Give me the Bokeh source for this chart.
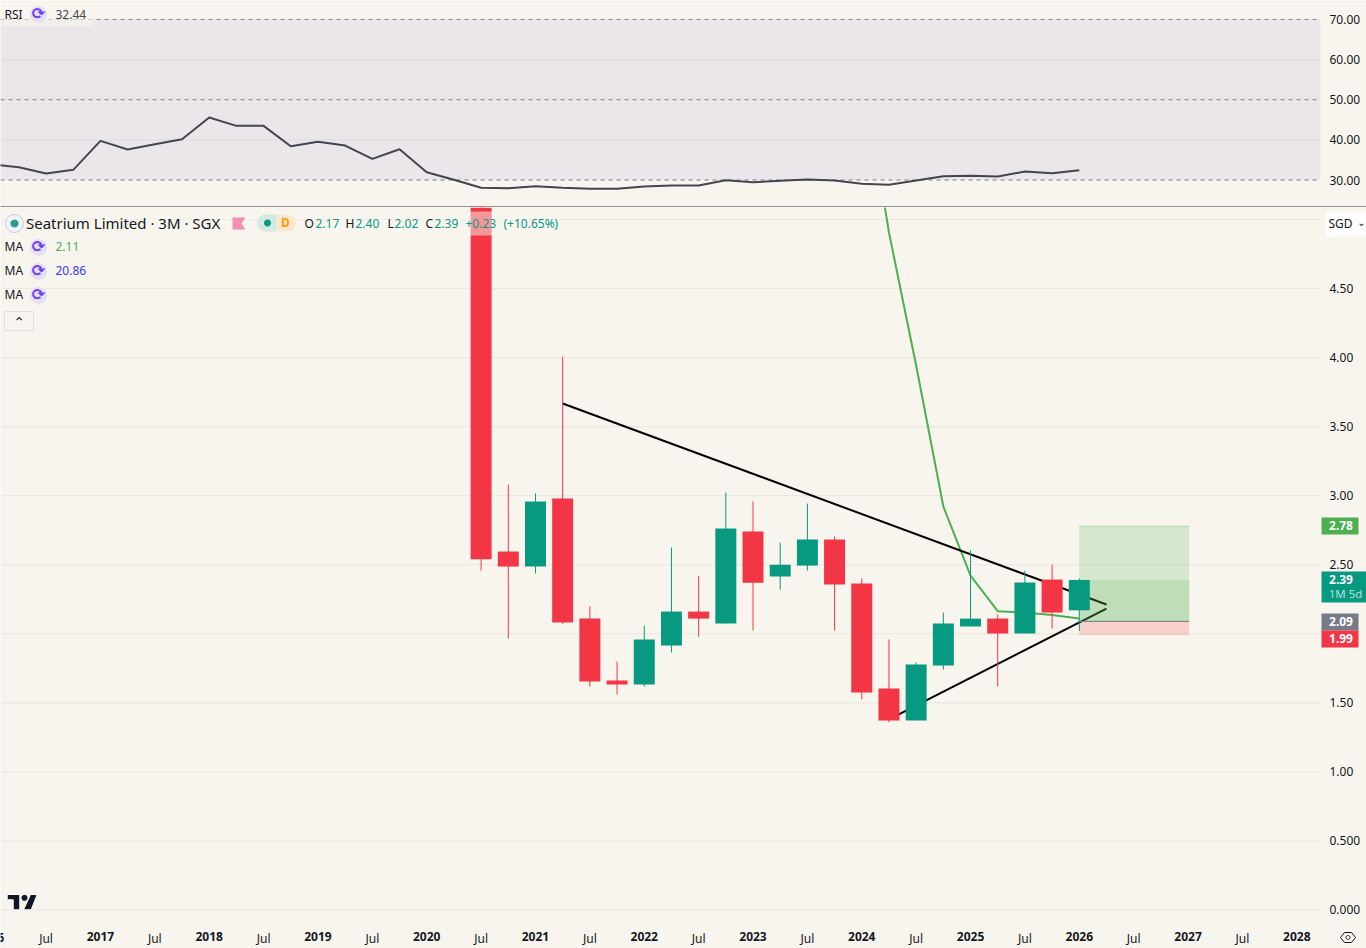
from bokeh.embed import file_html
from bokeh.resources import INLINE
from bokeh.layouts import column
from bokeh.models import Label, Range1d, LinearAxis, FixedTicker, PolyAnnotation
from bokeh.plotting import figure
import math

# ---- data (x = quarter index, 2021 Q1 = 4, 2026 Q1 = 24) ----
candle_x = list(range(2, 25))
opens  = [6.00, 2.596, 2.487, 2.98, 2.11, 1.662, 1.633, 1.915, 2.161, 2.075, 2.74, 2.415, 2.494, 2.683, 2.364, 1.604, 1.372, 1.77, 2.053, 2.11, 2.002, 2.393, 2.17]
highs  = [6.00, 3.08, 3.016, 4.008, 2.198, 1.799, 2.06, 2.625, 2.42, 3.023, 2.958, 2.66, 2.943, 2.705, 2.40, 1.959, 1.792, 2.154, 2.603, 2.14, 2.458, 2.50, 2.40]
lows   = [2.458, 1.966, 2.437, 2.072, 1.618, 1.56, 1.618, 1.865, 1.98, 2.075, 2.024, 2.32, 2.458, 2.024, 1.524, 1.36, 1.372, 1.741, 2.053, 1.618, 2.002, 2.038, 2.02]
closes = [2.54, 2.487, 2.958, 2.082, 1.655, 1.633, 1.959, 2.161, 2.11, 2.762, 2.37, 2.50, 2.683, 2.357, 1.575, 1.372, 1.778, 2.075, 2.11, 2.002, 2.371, 2.154, 2.39]

ma_x = [16, 17, 18, 19, 20, 21, 22, 23, 24]
ma_y = [6.13, 4.906, 3.943, 2.922, 2.422, 2.164, 2.154, 2.136, 2.11]

trend_down_x = [5, 25]
trend_down_y = [3.668, 2.212]
trend_up_x = [17, 25]
trend_up_y = [1.38, 2.183]

pos_left, pos_right = 24, 28.04
pos_target, pos_entry, pos_stop, pos_now = 2.78, 2.09, 1.99, 2.39

rsi_x = list(range(-16, 25))
rsi_y = [33.86, 33.19, 31.62, 32.54, 39.76, 37.6, 38.92, 40.16, 45.57, 43.5, 43.5, 38.42, 39.51, 38.59,
         35.28, 37.67, 31.94, 30.05, 28.06, 27.96, 28.46, 28.06, 27.81, 27.81, 28.38, 28.63, 28.63, 29.95,
         29.45, 29.8, 30.12, 29.88, 29.05, 28.8, 29.88, 30.95, 31.05, 30.87, 32.12, 31.69, 32.44]

price_ticks = [0, 0.5, 1, 1.5, 2, 2.5, 3, 3.5, 4, 4.5, 5]
price_labels = ["0.000", "0.500", "1.00", "1.50", "", "2.50", "3.00", "3.50", "4.00", "4.50", ""]
rsi_ticks = [30, 40, 50, 60, 70]
rsi_labels = ["30.00", "40.00", "50.00", "60.00", "70.00"]
rsi_dashed = [30, 50, 70]
year_ticks = [-12, -8, -4, 0, 4, 8, 12, 16, 20, 24, 28, 32]
year_labels = ["2017", "2018", "2019", "2020", "2021", "2022", "2023", "2024", "2025", "2026", "2027", "2028"]
jul_ticks = [-14, -10, -6, -2, 2, 6, 10, 14, 18, 22, 26, 30]
jul_labels = ["Jul"] * 12

BG = "#f8f5ee"
GRID = "#e9e6df"
RED = "#f23645"
TEAL = "#089981"
FONT = "Noto Sans"
INK = "#131722"

x0, x_edge, x1 = -15.676, 32.87, 34.563


def base(height, y_range, ticks, labels):
    p = figure(width=1366, height=height, x_range=Range1d(x0, x1), y_range=y_range,
               output_backend="svg", toolbar_location=None, x_axis_location=None, y_axis_location=None,
               background_fill_color=BG, border_fill_color=BG, outline_line_color=None,
               min_border_left=0, min_border_right=0, min_border_top=0, min_border_bottom=0)
    p.xgrid.visible = False
    p.ygrid.visible = False
    ax = LinearAxis(fixed_location=x_edge, ticker=FixedTicker(ticks=ticks),
                    major_label_overrides=dict(zip(ticks, labels)))
    ax.axis_line_color = None
    ax.major_tick_line_color = None
    ax.minor_tick_line_color = None
    ax.major_label_standoff = 3
    ax.major_label_text_font = FONT
    ax.major_label_text_font_size = "12px"
    ax.major_label_text_color = INK
    p.add_layout(ax, "right")
    return p


def gridlines(p, values, **style):
    p.multi_line(xs=[[x0, x_edge] for _ in values], ys=[[v, v] for v in values], **style)


# ---- RSI pane ----
rsi = base(207, Range1d(23.15, 74.73), rsi_ticks, rsi_labels)
rsi.quad(left=[x0], right=[x_edge], top=[max(rsi_ticks)], bottom=[min(rsi_ticks)], fill_color="#ebe6ea", line_color=None)
gridlines(rsi, [v for v in rsi_ticks if v not in rsi_dashed], line_color="#e1dce0", line_width=1)
gridlines(rsi, rsi_dashed, line_color="#787b86", line_width=1, line_dash="4 4")
rsi.line(rsi_x, rsi_y, line_color="#434651", line_width=2)

# ---- price pane ----
price = base(741, Range1d(-0.2788, 5.087), price_ticks, price_labels)
gridlines(price, price_ticks, line_color=GRID, line_width=1)

price.line(ma_x, ma_y, line_color="#4caf50", line_width=2)
price.line(trend_down_x, trend_down_y, line_color="#000000", line_width=2)
price.line(trend_up_x, trend_up_y, line_color="#000000", line_width=2)

price.quad(left=[pos_left], right=[pos_right], top=[pos_target], bottom=[pos_entry],
           fill_color="#4caf50", fill_alpha=0.2, line_color=None)
price.quad(left=[pos_left], right=[pos_right], top=[pos_now], bottom=[pos_entry],
           fill_color="#4caf50", fill_alpha=0.17, line_color=None)
price.quad(left=[pos_left], right=[pos_right], top=[pos_entry], bottom=[pos_stop],
           fill_color="#f44336", fill_alpha=0.2, line_color=None)
price.segment(x0=[pos_left], x1=[pos_right], y0=[pos_entry], y1=[pos_entry], line_color="#787b86", line_width=1)
price.segment(x0=[pos_left], x1=[pos_right], y0=[pos_target], y1=[pos_target], line_color="#4caf50",
              line_alpha=0.25, line_width=1)

colors = [TEAL if c >= o else RED for o, c in zip(opens, closes)]
price.segment(x0=candle_x, x1=candle_x, y0=lows, y1=highs, line_color=colors, line_width=1)
price.vbar(x=candle_x, width=0.772, top=[max(o, c) for o, c in zip(opens, closes)],
           bottom=[min(o, c) for o, c in zip(opens, closes)], fill_color=colors, line_color=None)


def xaxis(ticks, labels, style, where):
    ax = LinearAxis(fixed_location=where, ticker=FixedTicker(ticks=ticks),
                    major_label_overrides=dict(zip(ticks, labels)))
    ax.axis_line_color = None
    ax.major_tick_line_color = None
    ax.minor_tick_line_color = None
    ax.major_label_standoff = 0
    ax.major_label_text_font = FONT
    ax.major_label_text_font_size = "12px"
    ax.major_label_text_font_style = style
    ax.major_label_text_color = INK
    price.add_layout(ax, "below")


xaxis(year_ticks, year_labels, "bold", -0.116)
xaxis(jul_ticks, jul_labels, "normal", -0.098)


# ---- chrome, positioned in reference pixels ----
def text(fig, top, x, y, s, color=INK, size=13, font=FONT, align="left", style="normal"):
    fig.add_layout(Label(x=x, y=y - top - 0.7, x_units="canvas", y_units="canvas", text=s,
                         text_color=color, text_font=font, text_font_size=f"{size}px",
                         text_font_style=style, text_align=align, text_baseline="middle"))


def poly(fig, top, pts, color, alpha=1.0, line=None, lw=1):
    fig.add_layout(PolyAnnotation(xs=[a for a, _ in pts], ys=[b - top for _, b in pts],
                                  xs_units="canvas", ys_units="canvas", fill_color=color, fill_alpha=alpha,
                                  line_color=line, line_alpha=1.0, line_width=lw, level="annotation"))


def rect(fig, top, a, b, c, d, color, alpha=1.0, line=None):
    poly(fig, top, [(a, b), (c, b), (c, d), (a, d)], color, alpha, line)


def disc(fig, top, cx, cy, r, color, line=None, lw=1):
    poly(fig, top, [(cx + r * math.cos(k * math.pi / 12), cy + r * math.sin(k * math.pi / 12)) for k in range(24)],
         color, 1.0, line, lw)


def refresh(fig, top, cx, cy):
    disc(fig, top, cx, cy, 8.5, "#e6dff5")
    text(fig, top, cx, cy, "\u27f3", "#6f3ff5", 16, "DejaVu Sans", "center", "bold")


T1, T2 = 0, 207

# RSI legend
rect(rsi, T1, 0, 8, 93, 26, BG, 0.6)
text(rsi, T1, 4, 15, "RSI", INK, 12)
refresh(rsi, T1, 38, 14)
text(rsi, T1, 55, 15, "32.44", "#434651", 12)

# separator
rect(rsi, T1, 0, 206, 1366, 207, "#2a2e39")

# main legend
rect(price, T2, 0, 211, 560, 235, BG, 0.5)
disc(price, T2, 14, 223, 9, "#f0f3fa", "#c9cdd6")
disc(price, T2, 14, 223, 4, "#2f9c86")
text(price, T2, 25.5, 223, "Seatrium Limited \u00b7 3M \u00b7 SGX", INK, 15)
poly(price, T2, [(232, 217), (245, 217), (241, 223), (245, 229), (232, 229)], "#f48fb1")
disc(price, T2, 265, 222.5, 8.5, "#d1ebe2")
rect(price, T2, 265, 214, 276, 231, "#d1ebe2")
rect(price, T2, 276, 214, 287, 231, "#fbe8cf")
disc(price, T2, 287, 222.5, 8.5, "#fbe8cf")
disc(price, T2, 267, 222.5, 3.5, TEAL)
text(price, T2, 285, 223, "D", "#ff9800", 12, align="center", style="bold")
for x, s, c in [(304, "O", INK), (315, "2.17", TEAL), (345, "H", INK), (355, "2.40", TEAL),
                (387, "L", INK), (394, "2.02", TEAL), (425, "C", INK), (434, "2.39", TEAL),
                (465, "+0.23", TEAL), (503, "(+10.65%)", TEAL)]:
    text(price, T2, x, 223.5, s, c, 12)
for y, val, col in [(247, "2.11", "#4caf50"), (271, "20.86", "#3a3af5"), (295, "", INK)]:
    text(price, T2, 4, y, "MA", INK, 12)
    refresh(price, T2, 38, y)
    if val:
        text(price, T2, 55, y, val, col, 12)
rect(price, T2, 4, 311, 33, 330, BG, 1.0, "#dfe1e6")
text(price, T2, 18.5, 322, "\u2303", INK, 14, "DejaVu Sans", "center")

# SGD box
rect(price, T2, 1325, 212, 1366, 236, "#ffffff")
text(price, T2, 1328, 224, "SGD", INK, 12)
text(price, T2, 1361, 223, "\u2304", INK, 10, "DejaVu Sans", "center")

# price tags
rect(price, T2, 1321, 517, 1358, 534, "#4caf50")
text(price, T2, 1340.5, 525.5, "2.78", "#ffffff", 12, align="center", style="bold")
rect(price, T2, 1321, 571, 1366, 602, TEAL)
text(price, T2, 1340.5, 579.5, "2.39", "#ffffff", 12, align="center", style="bold")
text(price, T2, 1345, 593.5, "1M 5d", "#b4e0d5", 11.5, align="center")
rect(price, T2, 1321, 613, 1358, 630, "#787b86")
text(price, T2, 1340.5, 621.5, "2.09", "#ffffff", 12, align="center", style="bold")
rect(price, T2, 1321, 630, 1358, 647, RED)
text(price, T2, 1340.5, 638.5, "1.99", "#ffffff", 12, align="center", style="bold")

# partly hidden year at the left edge
text(price, T2, -10, 937.5, "2016", INK, 12, align="center", style="bold")

# logo
poly(price, T2, [(6.7, 894), (19.3, 894), (19.3, 909.3), (12.7, 909.3), (12.7, 899.3), (6.7, 899.3)], "#131722", 1.0, "#ffffff", 1)
poly(price, T2, [(30, 894), (36.7, 894), (30.7, 909.3), (23, 909.3)], "#131722", 1.0, "#ffffff", 1)
disc(price, T2, 24, 897.3, 3, "#131722")

# settings hexagon
poly(price, T2, [(1340, 937), (1344, 932), (1351, 932), (1355, 937), (1351, 942), (1344, 942)], BG, 1.0, INK, 1)
disc(price, T2, 1347.5, 937, 2, BG, INK, 1)

layout = column(rsi, price, spacing=0)

open("out.html", "w").write(file_html(layout, INLINE))
